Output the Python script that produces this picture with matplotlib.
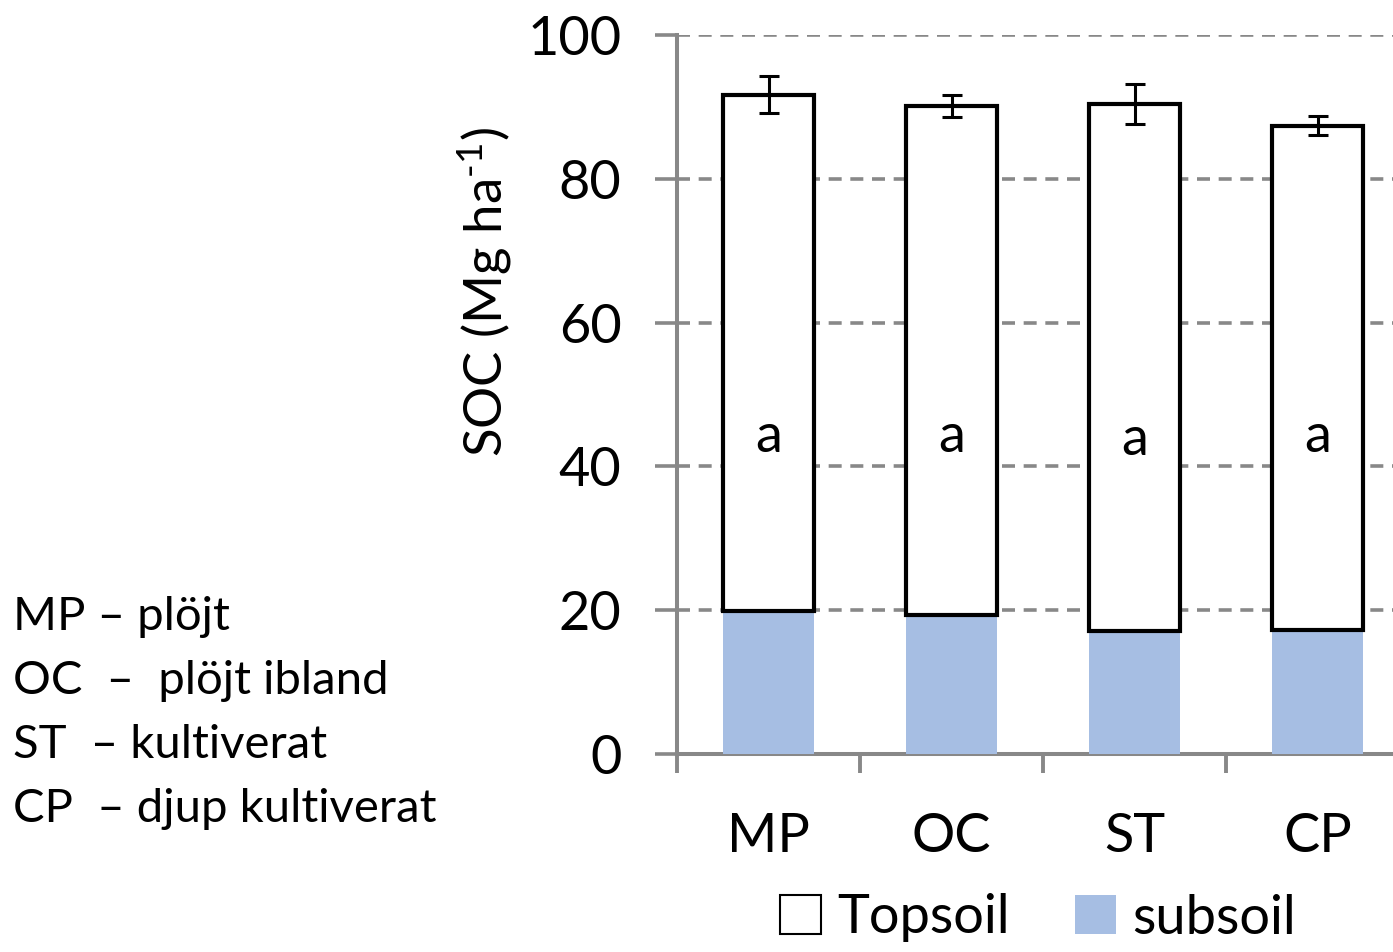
import matplotlib
matplotlib.use('Agg')
import matplotlib.pyplot as plt
from matplotlib.patches import Patch
import numpy as np

plt.rcParams['font.family'] = ['Lato', 'DejaVu Sans']
plt.rcParams['mathtext.fontset'] = 'custom'
plt.rcParams['mathtext.rm'] = 'Lato'
plt.rcParams['mathtext.it'] = 'Lato:italic'

# data
categories = ['MP', 'OC', 'ST', 'CP']
subsoil = [19.9, 19.4, 17.1, 17.2]
topsoil = [71.8, 70.7, 73.3, 70.2]
top_err = [2.6, 1.5, 2.8, 1.3]
letters = ['a', 'a', 'a', 'a']
letter_y = [44.2, 44.2, 43.7, 44.2]
notes = ['MP – plöjt', 'OC  –  plöjt ibland', 'ST  – kultiverat', 'CP  – djup kultiverat']

grey = '#888888'
blue = '#a6bee3'

fig = plt.figure(figsize=(13.93, 9.52), dpi=100)
ax = fig.add_axes([677 / 1393, (952 - 754) / 952, 1 - 677 / 1393, (754 - 35) / 952])

x = np.arange(len(categories))
w = 0.5
totals = np.array(subsoil) + np.array(topsoil)

ax.bar(x, subsoil, w, color=blue, edgecolor='none', zorder=3)
ax.bar(x, topsoil, w, bottom=subsoil, color='white', edgecolor='black', linewidth=3, zorder=3)
ax.errorbar(x, totals, yerr=top_err, fmt='none', ecolor='black', elinewidth=2.2,
            capsize=7, capthick=2.2, zorder=4)

for xi, lab, yy in zip(x, letters, letter_y):
    ax.text(xi, yy, lab, ha='center', va='center', fontsize=39, zorder=5)

ax.set_xlim(-0.5, (1393 - 768.5) / 183)
ax.set_ylim(0, 100)
ax.set_yticks([0, 20, 40, 60, 80, 100])
ax.yaxis.grid(True, color=grey, linestyle=(0, (3.6, 2.4)), linewidth=2.6, zorder=0)
ax.set_axisbelow(True)

ax.set_xticks(x)
ax.set_xticklabels(categories)
ax.set_xticks([-0.5, 0.5, 1.5, 2.5], minor=True)
ax.tick_params(axis='x', which='major', length=0, pad=42, labelsize=39)
ax.tick_params(axis='x', which='minor', length=14, width=2.8, color=grey, direction='out')
ax.tick_params(axis='y', length=16, width=2.6, color=grey, pad=24, labelsize=39)

for s in ['top', 'right']:
    ax.spines[s].set_visible(False)
for s in ['left', 'bottom']:
    ax.spines[s].set_color(grey)
    ax.spines[s].set_linewidth(2.9)

fig.text(485 / 1393, 1 - 292 / 952, 'SOC (Mg ha$^{\\text{-}1}$)', rotation=90,
         ha='center', va='center', fontsize=38)

handles = [Patch(facecolor='white', edgecolor='black', linewidth=1.5),
           Patch(facecolor=blue, edgecolor='none')]
fig.legend(handles, ['Topsoil', 'subsoil'], loc='center', bbox_to_anchor=(1038 / 1393, 1 - 918 / 952),
           ncol=2, frameon=False, fontsize=39, handlelength=0.75, handleheight=0.75,
           handletextpad=0.3, columnspacing=1.2)

for i, t in enumerate(notes):
    fig.text(13 / 1393, 1 - (617 + 64 * i) / 952, t, ha='left', va='center', fontsize=34)

fig.savefig('out.png', dpi=100)
